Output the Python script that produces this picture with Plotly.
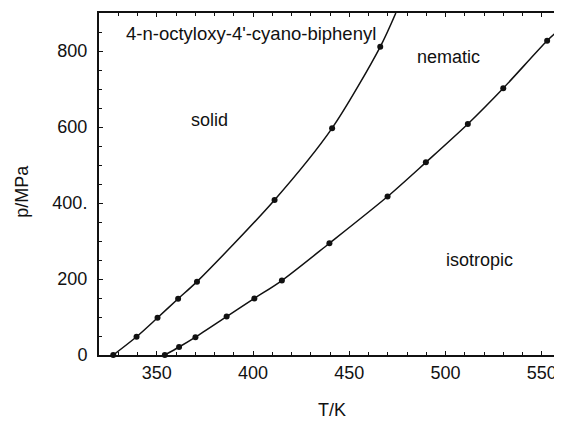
import plotly.graph_objects as go

# Solid -> nematic transition (measured points)
melt_T = [327.4, 339.5, 350.4, 361.1, 370.9, 411.2, 441.1, 466.1]
melt_p = [0, 48, 98, 148, 193, 408, 597, 811]
# continuation of the fitted curve to the top of the frame
melt_curve_T = melt_T + [474.2]
melt_curve_p = melt_p + [900]

# Nematic -> isotropic transition (measured points)
clear_T = [354.2, 361.6, 370.1, 386.3, 400.7, 415.0, 439.7, 469.9, 489.8, 511.6, 530.0, 552.8]
clear_p = [0, 21, 47, 101, 149, 196, 294, 417, 507, 608, 702, 827]
clear_curve_T = clear_T + [560.0]
clear_curve_p = clear_p + [860]

x_tickvals = [350, 400, 450, 500, 550]
x_ticktext = ["350", "400", "450", "500", "550"]
y_tickvals = [0, 200, 400, 600, 800]
y_ticktext = ["0", "200", "400.", "600", "800"]

FONT = "Liberation Sans, Arial, sans-serif"
INK = "#111111"

fig = go.Figure()
for cx, cy in [(melt_curve_T, melt_curve_p), (clear_curve_T, clear_curve_p)]:
    fig.add_trace(go.Scatter(x=cx, y=cy, mode="lines",
                             line=dict(color=INK, width=1.5, shape="spline", smoothing=0.8),
                             hoverinfo="skip", showlegend=False))
for px, py in [(melt_T, melt_p), (clear_T, clear_p)]:
    fig.add_trace(go.Scatter(x=px, y=py, mode="markers",
                             marker=dict(color=INK, size=6),
                             showlegend=False, cliponaxis=False))

ann = dict(showarrow=False, font=dict(family=FONT, size=18, color=INK))
fig.add_annotation(x=333.0, y=847, text="4-n-octyloxy-4'-cyano-biphenyl", xanchor="left",
                   showarrow=False, font=dict(family=FONT, size=18.5, color=INK))
fig.add_annotation(x=377.5, y=618, text="solid", **ann)
fig.add_annotation(x=501.6, y=785, text="nematic", **ann)
fig.add_annotation(x=517.7, y=250, text="isotropic", **ann)

# axis titles
fig.add_annotation(xref="paper", yref="paper", x=0.5037, y=-0.161, text="T/K",
                   xanchor="center", yanchor="middle", **ann)
fig.add_annotation(xref="paper", yref="paper", x=-0.167, y=0.48, text="p/MPa",
                   textangle=-90, xanchor="center", yanchor="middle", **ann)

axis_common = dict(showgrid=False, zeroline=False, showline=True, linecolor=INK, linewidth=2,
                   mirror="allticks", ticks="inside", ticklen=4, tickcolor=INK, tickwidth=1,
                   automargin=False,
                   tickfont=dict(family=FONT, size=18, color=INK))

fig.update_xaxes(range=[320, 560], tickvals=x_tickvals, ticktext=x_ticktext,
                 minor=dict(dtick=10, tick0=320, ticks="inside", ticklen=3, tickcolor=INK, tickwidth=1),
                 **axis_common)
fig.update_yaxes(range=[0, 900], tickvals=y_tickvals, ticktext=y_ticktext,
                 minor=dict(dtick=50, tick0=0, ticks="inside", ticklen=3, tickcolor=INK, tickwidth=1),
                 ticklabelstandoff=6,
                 **axis_common)

# the page body adds an 8px offset; margins compensate so the frame sits at x 99-561, y 13-355
fig.update_layout(width=562, height=429, margin=dict(l=91, r=9, t=5, b=82),
                  plot_bgcolor="white", paper_bgcolor="white", showlegend=False)

fig.write_html("out.html")
